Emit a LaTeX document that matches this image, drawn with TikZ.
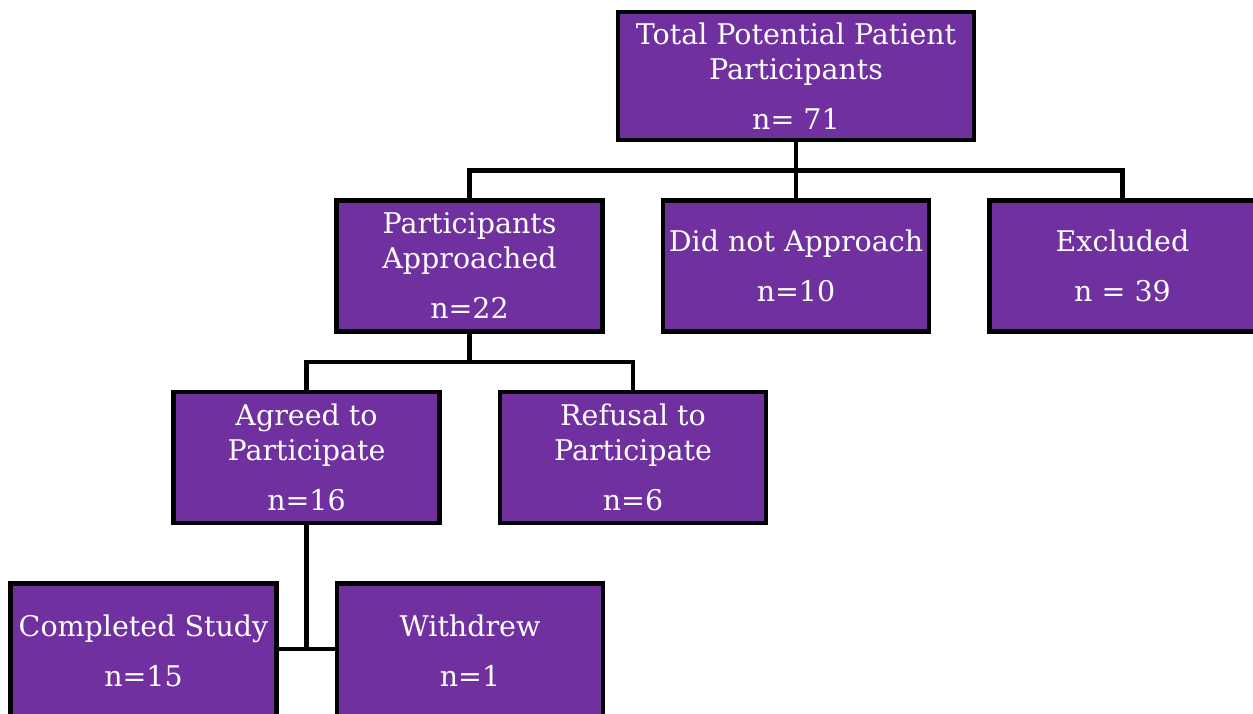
\documentclass[tikz,border=0pt]{standalone}
\usepackage{fontspec}
\setmainfont{DejaVu Serif}
\usetikzlibrary{positioning}

\definecolor{boxpurple}{RGB}{112,48,160}

\begin{document}
\begin{tikzpicture}[
    x = 1pt, y = 1pt,
    node distance = 56pt, % gap between boxes
    line width = 4.5pt, % line style
    cutbox/.style = {minimum height = 180pt} % bottom row runs off the page
    ]

    \tikzset{every node/.style={
    rectangle,
    draw = black,
    fill = boxpurple,
    text = white,
    align = center,
    minimum width = 266pt,
    minimum height = 131pt,
    font = \fontsize{28.5}{35}\selectfont
    }}
    \useasboundingbox (0,0) rectangle (1253,-713);
    \clip (0,0) rectangle (1253,-713);

    \node (total) [minimum width = 356pt, minimum height = 128pt] at (796,-76)
        {Total Potential Patient\\Participants\\[15pt]n= 71};
    \node (dna) [below=of total] {Did not Approach\\[15pt]n=10};
    \node (app) [left=of dna] {Participants\\Approached\\[15pt]n=22};
    \node (exc) [right=of dna] {Excluded\\[15pt]n = 39};
    \node (agr) [below=of app, xshift=-163pt] {Agreed to\\Participate\\[15pt]n=16};
    \node (ref) [right=of agr] {Refusal to\\Participate\\[15pt]n=6};
    \node (comp) [cutbox, below=of agr, xshift=-163pt] {Completed Study\\[15pt]n=15\\[10pt]\mbox{}};
    \node (wd) [cutbox, right=of comp] {Withdrew\\[15pt]n=1\\[10pt]\mbox{}};
    \coordinate (cj) at ([yshift=-67.5pt]comp.north east);
    \coordinate (wj) at ([yshift=-67.5pt]wd.north west);

    % tree connectors
    \draw (total.south) -- ++(0,-28) coordinate (j1);
    \draw (j1) -| (app.north);
    \draw (j1) -| (exc.north);
    \draw (j1) -- (dna.north);
    \draw (app.south) -- ++(0,-28) coordinate (j2);
    \draw (j2) -| (agr.north);
    \draw (j2) -| (ref.north);
    \draw (agr.south) -- (agr.south |- cj);
    \draw (cj) -- (wj);
\end{tikzpicture}
\end{document}
